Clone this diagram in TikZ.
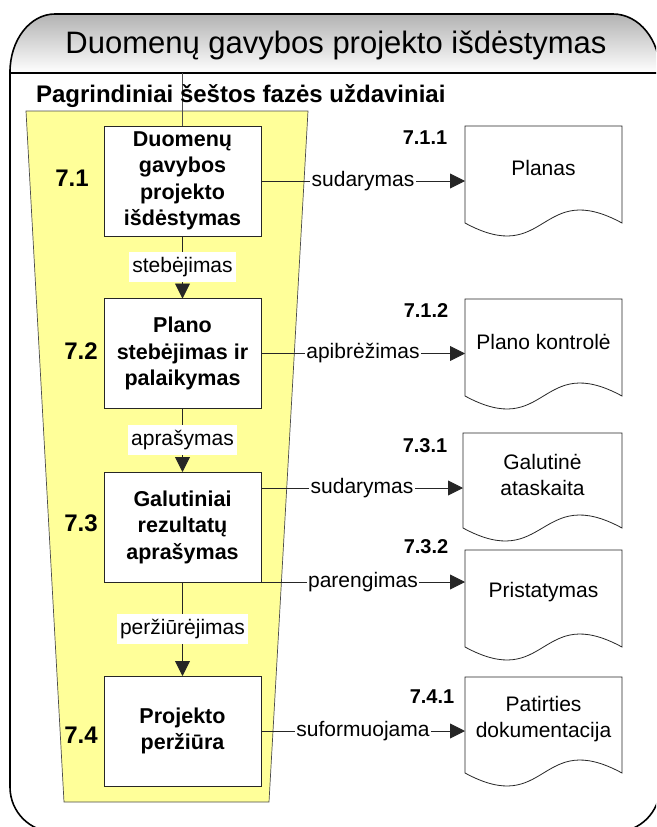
\documentclass[tikz,border=0pt]{standalone}
\usepackage{fontspec}
\setmainfont{Liberation Sans}
\usetikzlibrary{arrows.meta,calc}
\definecolor{trapyellow}{HTML}{FFFF99}
\begin{document}
\begin{tikzpicture}[x=1pt,y=-1pt,
  every node/.style={inner sep=0pt, outer sep=0pt},
  stepbox/.style={draw=black!85, line width=0.9pt, fill=white, minimum width=157pt, minimum height=110pt, align=center, font=\fontsize{21.5}{26.5}\selectfont\bfseries},
  docbox/.style={minimum width=157pt, minimum height=97pt},
  docshape/.style={draw=black!85, line width=0.8pt, fill=white},
  doctext/.style={align=center, font=\fontsize{21}{26}\selectfont},
  conn/.style={draw=black!85, line width=0.9pt},
  arr/.style={conn, -{Triangle[length=15pt,width=15pt]}},
  hlabel/.style={fill=white, inner xsep=1.5pt, inner ysep=3pt, font=\fontsize{21}{25}\selectfont},
  vlabel/.style={fill=white, inner xsep=3.5pt, inner ysep=5pt, font=\fontsize{21}{25}\selectfont},
  numlabel/.style={font=\fontsize{24}{28}\selectfont\bfseries},
  sublabel/.style={font=\fontsize{20}{24}\selectfont\bfseries},
]
\useasboundingbox (0,0) rectangle (656,827);
% outer frame with title band
\begin{scope}
\clip (0,0) rectangle (656,827);
\shade[top color=black!30, bottom color=white]
  (10,73) -- (10,72) .. controls (10,40) and (30,14) .. (55,14) -- (613,14)
  .. controls (639,14) and (660,40) .. (660,72) -- (660,73) -- cycle;
\draw[line width=1.6pt]
  (10,72) .. controls (10,40) and (30,14) .. (55,14) -- (613,14)
  .. controls (639,14) and (660,40) .. (660,72) -- (660,787)
  .. controls (660,812) and (640,832) .. (615,832) -- (55,832)
  .. controls (30,832) and (10,812) .. (10,787) -- cycle;
\draw[line width=1.6pt] (10,73) -- (660,73);
\end{scope}
\node[anchor=base, font=\fontsize{31}{36}\selectfont] (title) at (336,53) {Duomenų gavybos projekto išdėstymas};

% yellow phase trapezoid
\filldraw[fill=trapyellow, draw=black!70, line width=0.7pt] (26,111) -- (308,111) -- (269,802) -- (64,802) -- cycle;

% step boxes
\node[stepbox] (b1) at (182.5,181) {Duomenų\\gavybos\\projekto\\išdėstymas};
\node[stepbox] (b2) at (182.5,353.5) {Plano\\stebėjimas ir\\palaikymas};
\node[stepbox] (b3) at (182.5,527) {Galutiniai\\rezultatų\\aprašymas};
\node[stepbox] (b4) at (182.5,731) {Projekto\\peržiūra};

\coordinate (topc) at (182.5,73);
\draw[conn, draw=black!70] (topc) -- (b1.north);
\node[anchor=base west, font=\fontsize{24}{28}\selectfont\bfseries] (hdr) at (36,102) {Pagrindiniai šeštos fazės uždaviniai};

% step numbers
\node[numlabel] (n1) at (72,178) {7.1};
\node[numlabel] (n2) at (81,351) {7.2};
\node[numlabel] (n3) at (81,523) {7.3};
\node[numlabel] (n4) at (81,735) {7.4};

% documents
\foreach \nm/\cx/\cy/\w/\h in {d1/543.5/174.5/157/97, d2/543.5/347.5/157/97, d3/542.5/480.5/159/95, d4/543.5/598.5/157/97, d5/543.5/725/157/96}{
  \node[docbox, minimum width=\w pt, minimum height=\h pt] (\nm) at (\cx,\cy) {};
  \draw[docshape] (\nm.south west) -- (\nm.north west) -- (\nm.north east) -- (\nm.south east)
    .. controls +(-83,-45) and +(83,45) .. (\nm.south west) -- cycle;
}
\node[doctext] (t1) at (543.5,168) {Planas};
\node[doctext] (t2) at (543.5,342) {Plano kontrolė};
\node[doctext] (t3) at (542.5,475) {Galutinė\\ataskaita};
\node[doctext] (t4) at (543.5,592) {Pristatymas};
\node[doctext] (t5) at (543.5,719.5) {Patirties\\dokumentacija};

\node[sublabel] (s1) at (425,138) {7.1.1};
\node[sublabel] (s2) at (426,311) {7.1.2};
\node[sublabel] (s3) at (425,446) {7.3.1};
\node[sublabel] (s4) at (426,547) {7.3.2};
\node[sublabel] (s5) at (432,697) {7.4.1};

% horizontal connectors
\draw[arr] (b1.east) -- (b1.east -| d1.west) node[hlabel, midway] (h1) {sudarymas};
\draw[arr] (b2.east) -- (b2.east -| d2.west) node[hlabel, midway] (h2) {apibrėžimas};
\coordinate (c3a) at ([yshift=-16pt]b3.north east);
\draw[arr] (c3a) -- (c3a -| d3.west) node[hlabel, midway] (h3) {sudarymas};
\draw[arr] (b3.south east) -- (b3.south east -| d4.west) node[hlabel, midway] (h4) {parengimas};
\draw[arr] (b4.east) -- (b4.east -| d5.west) node[hlabel, midway] (h5) {suformuojama};

% vertical connectors
\draw[arr] (b1.south) -- (b2.north) node[vlabel, midway] (v1) {stebėjimas};
\draw[arr] (b2.south) -- (b3.north) node[vlabel, midway] (v2) {aprašymas};
\draw[arr] (b3.south) -- (b4.north) node[vlabel, midway] (v3) {peržiūrėjimas};
\end{tikzpicture}
\end{document}
